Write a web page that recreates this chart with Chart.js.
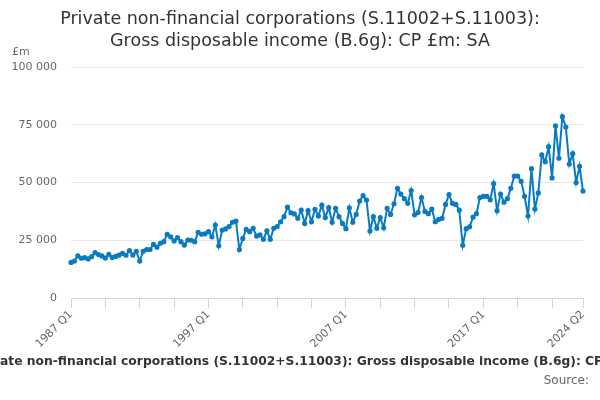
<!DOCTYPE html>
<html>
<head>
<meta charset="utf-8">
<script src="https://cdn.jsdelivr.net/npm/chart.js@4"></script>
<style>
  html, body { margin: 0; padding: 0; background: #fff; }
  #wrap { width: 600px; height: 400px; }
</style>
</head>
<body>
<div id="wrap"><canvas id="chart" width="600" height="400"></canvas></div>
<script>
// Chart text
const titleLines = [
  'Private non-financial corporations (S.11002+S.11003):',
  'Gross disposable income (B.6g): CP £m: SA'
];
const unitLabel = '£m';
const captionText = 'Private non-financial corporations (S.11002+S.11003): Gross disposable income (B.6g): CP £m: SA';
const sourceText = 'Source:';

// Quarterly periods, 1987 Q1 to 2024 Q2
const periods = [];
for (let y = 1987; y <= 2024; y++) {
  for (let q = 1; q <= 4; q++) {
    if (y === 2024 && q > 2) break;
    periods.push(y + ' Q' + q);
  }
}

// Gross disposable income, £m
const values = [
  15400, 16000, 18200, 17200, 17500, 16900, 17900, 19600, 18800, 18200,
  17300, 18900, 17500, 18000, 18600, 19300, 18500, 20500, 18600, 20200,
  16000, 20200, 21000, 21000, 23200, 22000, 23700, 24400, 27600, 26500,
  24700, 26100, 24400, 22900, 25100, 25000, 24400, 28400, 27600, 27800,
  28700, 26500, 31600, 22600, 29400, 29900, 30900, 32800, 33300, 21000,
  25800, 29700, 28700, 30200, 26800, 27300, 25400, 29100, 25400, 30200,
  30900, 33000, 35200, 39300, 36900, 36400, 34500, 38100, 32300, 37800,
  33000, 38400, 35500, 40200, 34800, 39100, 32800, 38800, 35200, 32300,
  30000, 39000, 32800, 36200, 42000, 44300, 42400, 29000, 35200, 30200,
  34800, 30400, 38800, 36200, 40800, 47500, 45000, 43000, 41000, 46500,
  36000, 37000, 43500, 37500, 36500, 38500, 33000, 34000, 34500, 40500,
  44800, 41000, 40500, 38000, 22800, 30000, 30800, 35000, 36500, 43500,
  44000, 44000, 42500, 49500, 37800, 45000, 41500, 43000, 47500, 52800,
  52800, 50500, 44000, 35500, 56000, 38500, 45500, 62000, 59000, 65500,
  52000, 74500, 60500, 78500, 74000, 58000, 62500, 50000, 57000, 46300
];

// Axis ticks
const yTicks = [0, 25000, 50000, 75000, 100000];
const xTickIdx = [0, 10, 20, 30, 40, 50, 60, 70, 80, 90, 100, 110, 120, 130, 140, 149];
const xLabelIdx = [0, 40, 80, 120, 149];

const FONT = "'DejaVu Sans', sans-serif";

function formatThousands(v) {
  return String(v).replace(/\B(?=(\d{3})+(?!\d))/g, ' ');
}

// Titles and footer text drawn onto the canvas
const textPlugin = {
  id: 'texts',
  afterDraw(chart) {
    const ctx = chart.ctx;
    ctx.save();
    ctx.fillStyle = '#333333';
    ctx.textAlign = 'center';
    ctx.textBaseline = 'middle';
    ctx.font = '17.5px ' + FONT;
    ctx.fillText(titleLines[0], 300, 19);
    ctx.fillText(titleLines[1], 300, 41);

    ctx.fillStyle = '#666666';
    ctx.textAlign = 'left';
    ctx.font = '11px ' + FONT;
    ctx.fillText(unitLabel, 12, 52);

    // caption runs off both edges
    ctx.fillStyle = '#333333';
    ctx.font = 'bold 12.3px ' + FONT;
    const cut = ctx.measureText('Priv').width;
    ctx.fillText(captionText, -cut, 362);

    ctx.fillStyle = '#666666';
    ctx.font = '12px ' + FONT;
    ctx.textAlign = 'right';
    ctx.fillText(sourceText, 589, 381);
    ctx.restore();
  }
};

new Chart(document.getElementById('chart'), {
  type: 'line',
  data: {
    datasets: [{
      data: values.map((v, i) => ({ x: i, y: v })),
      borderColor: '#0b7bc1',
      backgroundColor: '#0b7bc1',
      borderWidth: 2,
      pointRadius: 1.6,
      pointHoverRadius: 3,
      tension: 0,
      clip: 6
    }]
  },
  options: {
    responsive: false,
    animation: false,
    layout: { padding: { top: 67, right: 17, bottom: 0, left: 0 } },
    plugins: {
      legend: { display: false },
      title: { display: false },
      tooltip: { enabled: false }
    },
    scales: {
      x: {
        type: 'linear',
        min: 0,
        max: periods.length - 1,
        afterBuildTicks: (scale) => {
          scale.ticks = xTickIdx.map(v => ({ value: v }));
        },
        afterFit: (scale) => { scale.height = 102; },
        ticks: {
          autoSkip: false,
          minRotation: 45,
          maxRotation: 45,
          color: '#666666',
          font: { family: FONT, size: 11 },
          padding: 0,
          callback: (v) => xLabelIdx.includes(v) ? periods[v] : ''
        },
        grid: {
          drawOnChartArea: false,
          drawTicks: true,
          tickLength: 10,
          color: '#ccd6eb'
        },
        border: { color: '#ccd6eb', width: 1 }
      },
      y: {
        min: 0,
        max: 100000,
        afterBuildTicks: (scale) => {
          scale.ticks = yTicks.map(v => ({ value: v }));
        },
        afterFit: (scale) => { scale.width = 71; },
        ticks: {
          color: '#666666',
          font: { family: FONT, size: 11 },
          padding: 14,
          callback: (v) => formatThousands(v)
        },
        grid: {
          color: '#e6e6e6',
          drawTicks: false
        },
        border: { display: false }
      }
    }
  },
  plugins: [textPlugin]
});
</script>
</body>
</html>
